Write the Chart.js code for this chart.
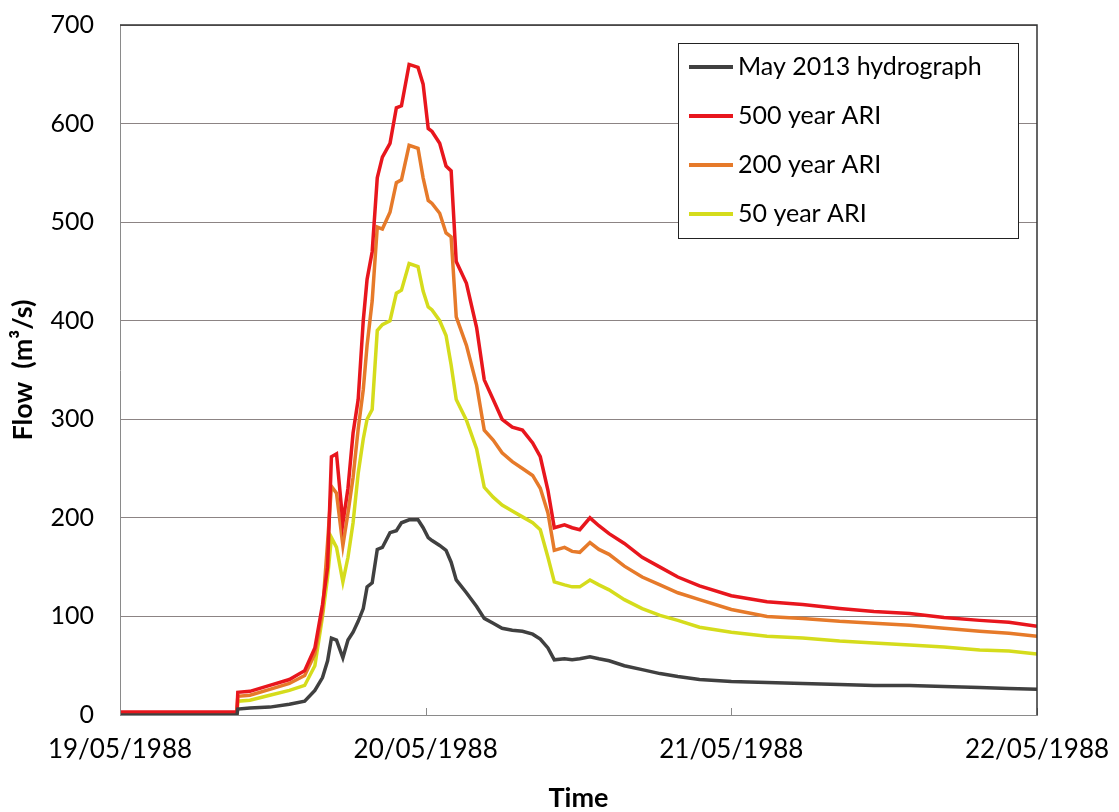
<!DOCTYPE html>
<html>
<head>
<meta charset="utf-8">
<script src="https://cdn.jsdelivr.net/npm/chart.js@4.4.1/dist/chart.umd.min.js"></script>
<style>
  html, body { margin: 0; padding: 0; background: #fff; }
</style>
</head>
<body>
<canvas id="flowChart" width="1119" height="812"></canvas>
<script>
// hours after 00:00 19/05/1988
const hours = [0, 9.18, 9.25, 10.2, 11.76, 13.3, 14.5, 15.3, 15.9, 16.3, 16.6, 17.0, 17.5, 17.9, 18.3, 18.7,
  19.1, 19.4, 19.8, 20.2, 20.6, 21.2, 21.7, 22.1, 22.7, 23.4, 23.8, 24.2, 24.5, 25.1, 25.6, 26.0, 26.4,
  27.2, 28.0, 28.6, 29.3, 30.0, 30.8, 31.6, 32.4, 33.0, 33.6, 34.1, 34.9, 35.5, 36.1, 36.9, 37.6, 38.4,
  39.6, 41.0, 42.4, 43.8, 45.5, 48.0, 50.8, 53.6, 56.5, 59.2, 62.0, 64.7, 67.5, 69.8, 72];

const may2013 = [0, 0, 6, 7, 8, 11, 14, 25, 38, 55, 78, 76, 58, 76, 84, 95,
  108, 130, 134, 168, 170, 185, 187, 195, 198, 198, 190, 180, 177, 172, 167, 155, 137,
  124, 110, 98, 93, 88, 86, 85, 82, 77, 68, 56, 57, 56, 57, 59, 57, 55,
  50, 46, 42, 39, 36, 34, 33, 32, 31, 30, 30, 29, 28, 27, 26];

const ari500 = [3, 3, 23, 24, 30, 36, 45, 68, 112, 150, 262, 265, 195, 230, 286, 320,
  400, 442, 470, 545, 566, 580, 616, 618, 660, 657, 640, 595, 592, 580, 557, 552, 460,
  438, 393, 340, 320, 300, 292, 289, 276, 262, 228, 190, 193, 190, 188, 200, 192, 184,
  174, 160, 150, 140, 131, 121, 115, 112, 108, 105, 103, 99, 96, 94, 90];

const ari200 = [2, 2, 19, 20, 26, 32, 40, 62, 105, 175, 232, 225, 172, 205, 241, 290,
  330, 375, 420, 495, 493, 510, 540, 543, 578, 575, 545, 522, 519, 509, 489, 485, 404,
  375, 335, 289, 279, 266, 257, 250, 243, 230, 205, 167, 170, 166, 165, 175, 168, 163,
  151, 140, 132, 124, 117, 107, 100, 98, 95, 93, 91, 88, 85, 83, 80];

const ari50 = [1, 1, 14, 15, 20, 25, 30, 50, 100, 140, 180, 170, 135, 160, 195, 245,
  280, 300, 310, 390, 396, 400, 428, 431, 458, 455, 430, 414, 411, 400, 385, 355, 320,
  299, 270, 231, 221, 213, 207, 201, 195, 188, 160, 135, 132, 130, 130, 137, 132, 127,
  117, 108, 101, 96, 89, 84, 80, 78, 75, 73, 71, 69, 66, 65, 62];

const seriesNames = ['May 2013 hydrograph', '500 year ARI', '200 year ARI', '50 year ARI'];
const seriesColors = ['#404040', '#e8161d', '#e67a2a', '#d5dc1c'];
const dateLabels = ['19/05/1988', '20/05/1988', '21/05/1988', '22/05/1988'];

const FONT = 'Lato, "Open Sans", sans-serif';

function pts(values) {
  return hours.map((h, i) => ({ x: h, y: values[i] }));
}

// inner tick marks, dark top/right frame and the boxed legend
const frameAndLegend = {
  id: 'frameAndLegend',
  afterDatasetsDraw(chart) {
    const { ctx, chartArea: a, scales: { x } } = chart;
    ctx.save();

    ctx.strokeStyle = '#8a8a8a';
    ctx.lineWidth = 1;
    dateLabels.forEach((d, i) => {
      const px = Math.round(x.getPixelForValue(i * 24)) + 0.5;
      ctx.beginPath();
      ctx.moveTo(px, a.bottom);
      ctx.lineTo(px, a.bottom - 7);
      ctx.stroke();
    });

    ctx.strokeStyle = '#333';
    ctx.lineWidth = 1.5;
    ctx.beginPath();
    ctx.moveTo(a.left, a.top);
    ctx.lineTo(a.right, a.top);
    ctx.lineTo(a.right, a.bottom);
    ctx.stroke();

    const lx = a.right - 359, ly = a.top + 18, lw = 340, lh = 195;
    ctx.fillStyle = '#fff';
    ctx.fillRect(lx, ly, lw, lh);
    ctx.strokeStyle = '#222';
    ctx.lineWidth = 1;
    ctx.strokeRect(lx + 0.5, ly + 0.5, lw, lh);

    ctx.font = '25px ' + FONT;
    ctx.textBaseline = 'middle';
    ctx.fillStyle = '#000';
    chart.data.datasets.forEach((ds, i) => {
      const cy = ly + 24 + i * 49;
      ctx.strokeStyle = ds.borderColor;
      ctx.lineWidth = 4;
      ctx.beginPath();
      ctx.moveTo(lx + 11, cy);
      ctx.lineTo(lx + 55, cy);
      ctx.stroke();
      ctx.fillText(ds.label, lx + 60, cy);
    });
    ctx.restore();
  }
};

new Chart(document.getElementById('flowChart').getContext('2d'), {
  type: 'line',
  data: {
    datasets: [may2013, ari500, ari200, ari50].map((vals, i) => ({
      label: seriesNames[i],
      data: pts(vals),
      borderColor: seriesColors[i],
      backgroundColor: seriesColors[i],
      borderWidth: 3.5,
      pointRadius: 0,
      tension: 0,
      fill: false
    }))
  },
  options: {
    responsive: false,
    animation: false,
    devicePixelRatio: 1,
    layout: { padding: { top: 25, right: 82, bottom: 0, left: 0 } },
    plugins: {
      legend: { display: false },
      tooltip: { enabled: false }
    },
    scales: {
      x: {
        type: 'linear',
        min: 0,
        max: 72,
        afterFit(scale) {
          scale.height = 97;
          scale.paddingLeft = 0;
          scale.paddingRight = 0;
        },
        ticks: {
          stepSize: 24,
          autoSkip: false,
          maxRotation: 0,
          padding: 11,
          color: '#000',
          font: { family: FONT, size: 26 },
          callback: (v) => dateLabels[v / 24]
        },
        grid: { display: false },
        border: { display: true, color: '#8a8a8a', width: 1 },
        title: {
          display: true,
          text: 'Time',
          color: '#000',
          font: { family: FONT, size: 27, weight: 'bold' },
          padding: { top: 0, bottom: -2 }
        }
      },
      y: {
        min: 0,
        max: 700,
        afterFit(scale) {
          scale.width = 120;
          scale.paddingTop = 0;
          scale.paddingBottom = 0;
        },
        ticks: {
          stepSize: 100,
          padding: 26,
          color: '#000',
          font: { family: FONT, size: 25 }
        },
        grid: { color: '#8c8484', lineWidth: 1, drawTicks: false },
        border: { display: true, color: '#8a8a8a', width: 1 },
        title: {
          display: true,
          text: 'Flow  (m³/s)',
          color: '#000',
          font: { family: FONT, size: 27, weight: 'bold' },
          padding: { top: 7, bottom: 0 }
        }
      }
    }
  },
  plugins: [frameAndLegend]
});
</script>
</body>
</html>
